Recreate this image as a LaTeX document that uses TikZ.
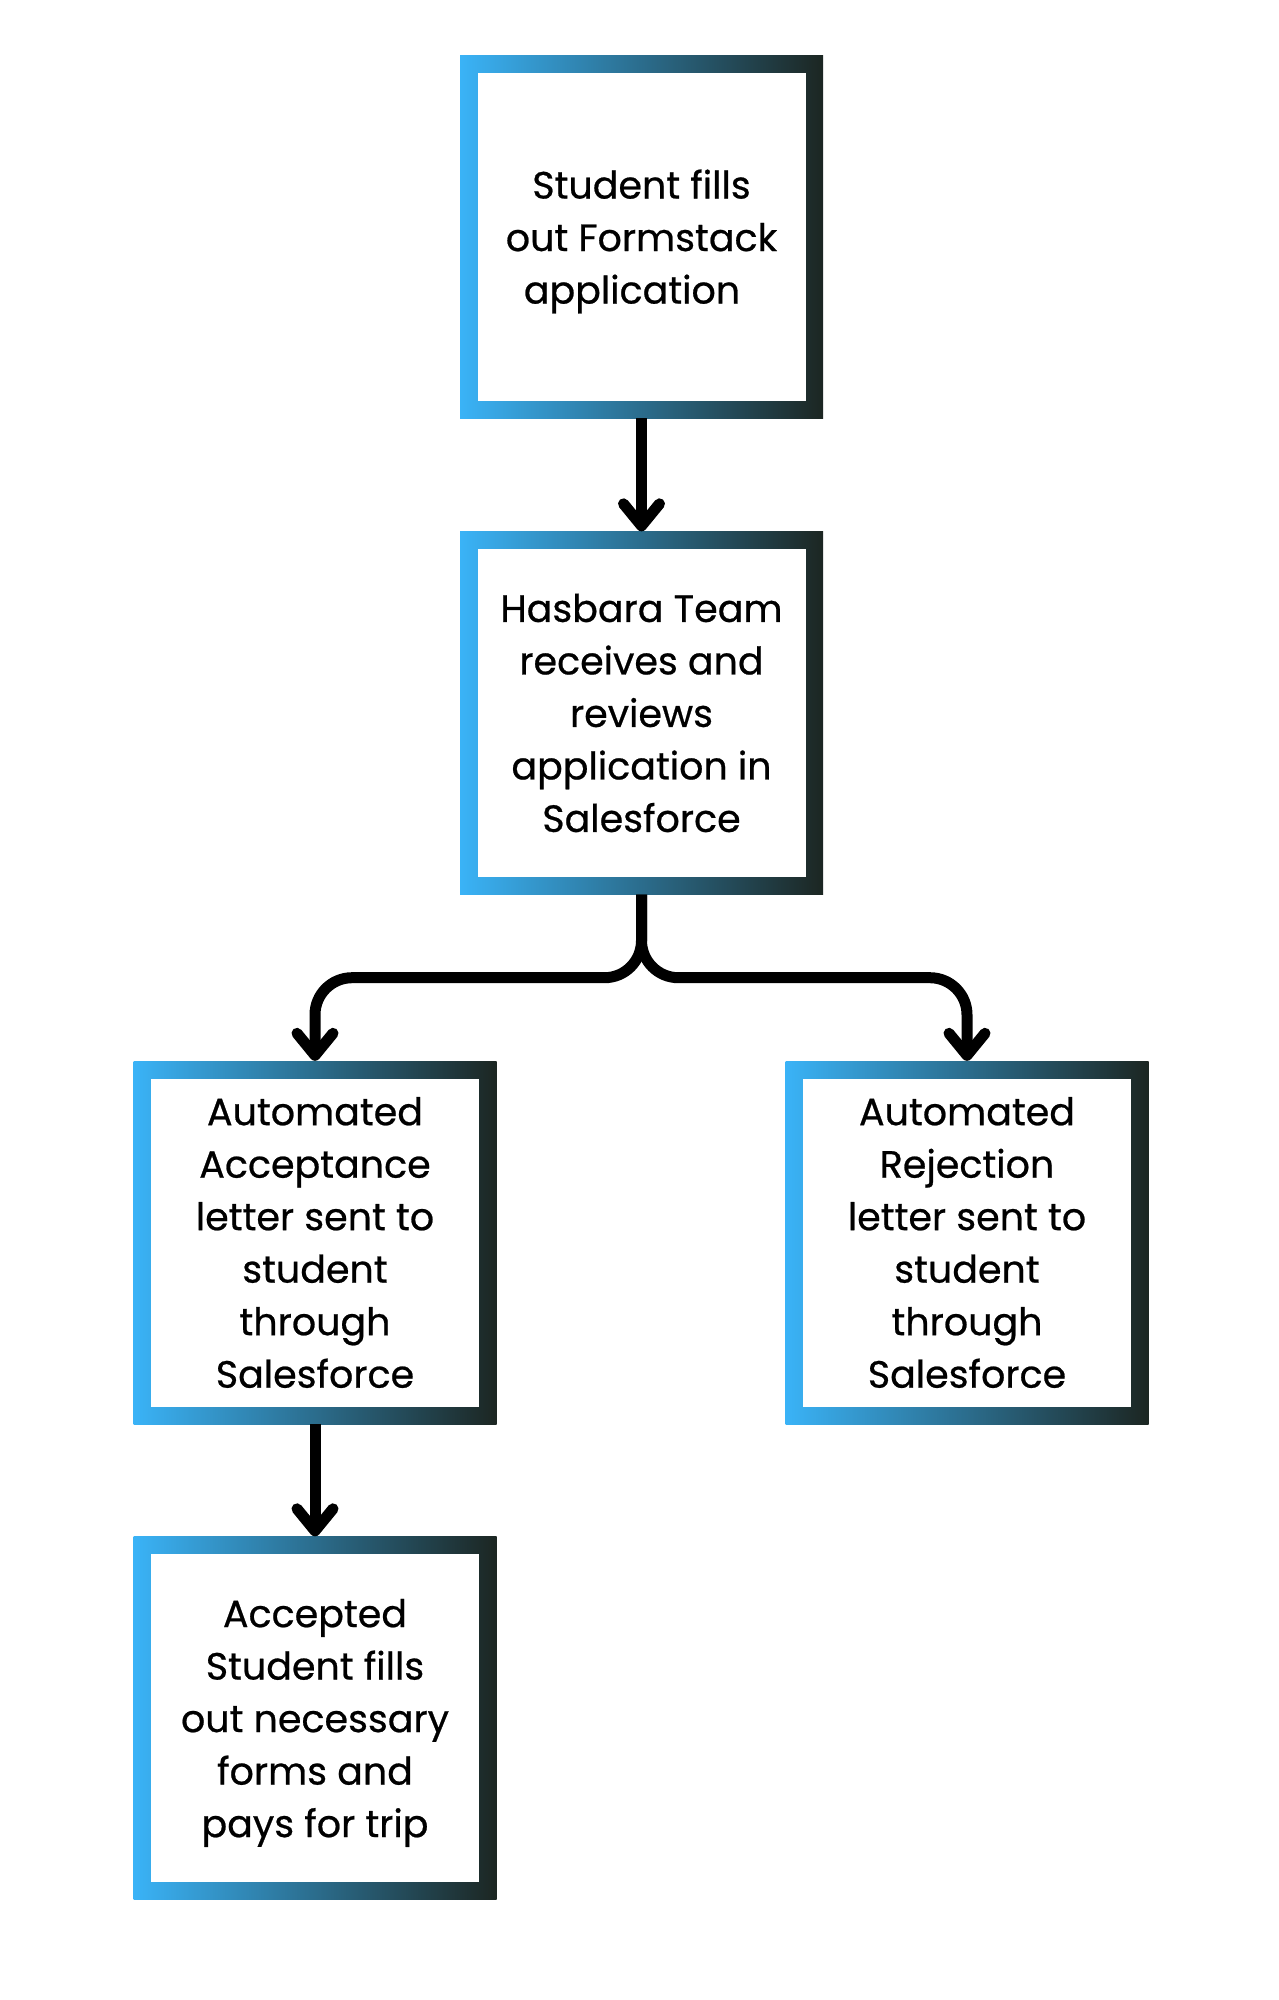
\documentclass[tikz,border=0pt]{standalone}
\usepackage{fontspec}
\setmainfont{Poppins}[FakeBold=0.6]
\usetikzlibrary{arrows.meta,calc}
\definecolor{gblue}{HTML}{3AB3F7}
\definecolor{gdark}{HTML}{1C2622}
\begin{document}
\begin{tikzpicture}[x=1pt,y=-1pt,
  flowbox/.style={rectangle, minimum width=363pt, minimum height=363pt, inner sep=0pt,
    left color=gblue, right color=gdark, draw=none,
    align=center, font=\fontsize{38}{52.5}\selectfont,
    path picture={\fill[white] ([shift={(17.5pt,17.5pt)}]path picture bounding box.south west)
      rectangle ([shift={(-17.5pt,-17.5pt)}]path picture bounding box.north east);}},
  conn/.style={line width=11pt, black, line cap=butt,
    -{Straight Barb[length=22pt,width=36pt,round]}}
]
\fill[white] (0,0) rectangle (1278,2000);
\useasboundingbox (0,0) rectangle (1278,2000);
\node[flowbox] (b1) at (641.5,236.5) {Student fills\\out Formstack\\\smash{application}\hspace*{0.5em}};
\node[flowbox] (b2) at (641.5,713) {Hasbara Team\\receives and\\reviews\\application in\\Salesforce};
\node[flowbox] (b3) at (315,1242.5) {Automated\\Acceptance\\letter sent to\\student\\through\\Salesforce};
\node[flowbox] (b4) at (967,1242.5) {Automated\\Rejection\\letter sent to\\student\\through\\Salesforce};
\node[flowbox] (b5) at (315,1718) {Accepted\\Student fills\\out necessary\\forms and\\\smash{pays for trip}};
\coordinate (j) at ($(b2.south)+(0,83)$);
\draw[conn] (b1.south) -- (b2.north);
\draw[conn, rounded corners=37pt] (b2.south) -- (j) -| (b3.north);
\draw[conn, rounded corners=37pt] (b2.south) -- (j) -| (b4.north);
\draw[conn] (b3.south) -- (b5.north);
\end{tikzpicture}
\end{document}
